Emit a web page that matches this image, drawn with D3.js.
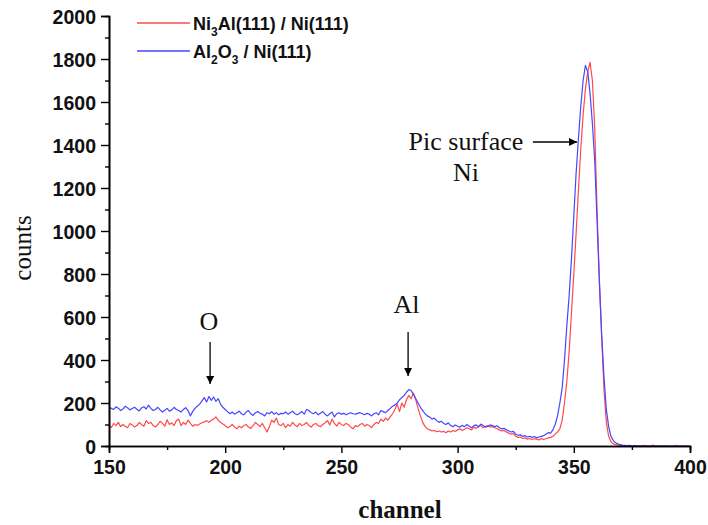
<!DOCTYPE html>
<html><head><meta charset="utf-8">
<script src="https://cdn.jsdelivr.net/npm/d3@7"></script>
<style>body{margin:0;background:#fff}svg{display:block}</style>
</head><body><svg id="c" width="708" height="525"></svg>
<script>
// ---------- data ----------
const channelStart = 150; // first channel; one value per channel
const ni3alCounts = [
100,85,105,95,110,90,100,92,85,105,
98,88,95,110,100,92,118,105,110,95,
88,100,115,105,92,122,100,108,95,118,
125,95,110,100,120,105,92,100,95,102,
108,112,118,110,120,125,135,120,110,102,
95,
85,90,100,88,80,92,85,95,100,88,
82,95,110,100,90,105,85,65,90,120,
110,130,100,95,105,85,100,92,110,98,
90,105,95,100,110,95,88,100,105,95,
90,100,108,118,98,125,105,92,110,100,
95,105,100,88,80,95,90,100,105,92,
100,95,85,100,110,105,125,115,130,120,
135,150,170,195,160,200,180,215,235,220,
245,215,175,140,110,90,80,75,70,72,
66,70,65,68,62,70,65,72,68,75,
80,72,78,85,80,75,88,82,90,95,
85,92,95,88,90,85,80,75,70,72,
65,60,55,58,45,40,42,35,38,32,
35,30,34,32,28,35,30,34,38,40,
45,55,65,80,120,200,300,440,620,800,
990,1190,1380,1540,1660,1740,1785,1700,1480,1100,
780,500,260,110,45,20,10,6,4,3,
2,1,0,1,0,2,0,1,0,3,
2,0,1,4,0,0,2,0,0,1,
0,0,0,3,0,0,1,0,0,0
];
const al2o3Counts = [
180,175,170,182,176,165,172,185,178,168,
174,180,171,163,177,183,172,190,175,165,
170,180,168,158,166,175,162,168,180,170,
165,158,170,178,165,140,160,175,185,195,
210,225,205,230,212,228,208,220,195,180,
170,
160,150,158,148,155,162,150,145,158,165,
150,142,155,160,152,148,140,155,150,160,
148,155,145,152,150,158,148,155,162,150,
145,152,160,148,170,165,155,150,158,145,
152,160,148,140,150,158,135,150,155,148,
152,145,150,155,150,148,152,155,150,145,
152,148,140,150,155,145,165,160,155,165,
175,185,190,200,215,225,235,250,262,258,
240,220,200,180,165,150,140,135,125,130,
118,110,115,105,100,108,95,90,98,92,
88,96,90,100,92,85,95,98,90,102,
95,88,92,98,95,90,94,85,80,82,
75,70,65,68,55,50,52,45,48,42,
45,40,44,38,42,45,48,55,62,60,
75,100,140,200,270,400,560,700,870,1070,
1270,1430,1580,1700,1770,1740,1640,1500,1330,1050,
760,520,320,170,90,45,25,15,10,6,
4,3,2,3,1,2,1,0,1,0,
0,1,0,0,1,0,0,0,1,0,
0,0,1,0,0,0,0,0,0,0
];
const xTicks = [150,200,250,300,350,400];
const xMinorTicks = [175,225,275,325,375];
const yTicks = [0,200,400,600,800,1000,1200,1400,1600,1800,2000];
const yMinorTicks = [100,300,500,700,900,1100,1300,1500,1700,1900];
const xTitle = "channel";
const yTitle = "counts";

// ---------- drawing ----------
const svg = d3.select("#c");
const x = d3.scaleLinear().domain([150,400]).range([109,690]);
const y = d3.scaleLinear().domain([0,2000]).range([446,16]);
const sans = "'Liberation Sans', Arial, sans-serif";
const serif = "'Liberation Serif', 'Times New Roman', serif";
const RED = "#ff4a4a", BLUE = "#4646ff";

function series(vals){ return vals.map((v,i)=>[channelStart+i, v]); }
const line = d3.line().x(d=>x(d[0])).y(d=>y(d[1]));

svg.append("path").datum(series(ni3alCounts)).attr("d", line)
  .attr("fill","none").attr("stroke",RED).attr("stroke-width",1.2).attr("stroke-linejoin","round");
svg.append("path").datum(series(al2o3Counts)).attr("d", line)
  .attr("fill","none").attr("stroke",BLUE).attr("stroke-width",1.2).attr("stroke-linejoin","round");

// axes
function styleAxis(g){
  g.selectAll(".domain").attr("stroke","#000").attr("stroke-width",1.6);
  g.selectAll(".tick line").attr("stroke","#000").attr("stroke-width",1.4);
  g.selectAll("text").attr("font-family",sans).attr("font-weight","bold")
    .attr("font-size",19.5).attr("fill","#111");
}
const yMinor = svg.append("g").attr("transform",`translate(${x(150)},0)`)
  .call(d3.axisLeft(y).tickValues(yMinorTicks).tickSize(4).tickFormat(""));
styleAxis(yMinor);
const yAxis = svg.append("g").attr("transform",`translate(${x(150)},0)`)
  .call(d3.axisLeft(y).tickValues(yTicks).tickSize(8).tickPadding(5).tickFormat(d3.format("d")));
styleAxis(yAxis);
yAxis.selectAll("text").attr("dy","0.36em");

const xMinor = svg.append("g").attr("transform",`translate(0,${y(0)})`)
  .call(d3.axisBottom(x).tickValues(xMinorTicks).tickSize(4).tickFormat(""));
styleAxis(xMinor);
const xAxis = svg.append("g").attr("transform",`translate(0,${y(0)})`)
  .call(d3.axisBottom(x).tickValues(xTicks).tickSize(7).tickPadding(7).tickFormat(d3.format("d")));
styleAxis(xAxis);

// axis titles
svg.append("text").attr("x",400).attr("y",518).attr("text-anchor","middle")
  .attr("font-family",serif).attr("font-weight","bold").attr("font-size",25).attr("fill","#111").text(xTitle);
svg.append("text").attr("transform","translate(31,248) rotate(-90)").attr("text-anchor","middle")
  .attr("font-family",serif).attr("font-size",25).attr("fill","#111").text(yTitle);

// legend
const leg = svg.append("g");
leg.append("line").attr("x1",137).attr("x2",190).attr("y1",23).attr("y2",23).attr("stroke",RED).attr("stroke-width",1.4);
leg.append("line").attr("x1",137).attr("x2",190).attr("y1",51).attr("y2",51).attr("stroke",BLUE).attr("stroke-width",1.4);
const lt1 = leg.append("text").attr("x",193).attr("y",30).attr("font-family",sans).attr("font-weight","bold")
  .attr("font-size",18).attr("fill","#111");
lt1.append("tspan").text("Ni");
lt1.append("tspan").attr("font-size",12).attr("dy",6).text("3");
lt1.append("tspan").attr("dy",-6).text("Al(111) / Ni(111)");
const lt2 = leg.append("text").attr("x",193).attr("y",58).attr("font-family",sans).attr("font-weight","bold")
  .attr("font-size",18).attr("fill","#111");
lt2.append("tspan").text("Al");
lt2.append("tspan").attr("font-size",12).attr("dy",6).text("2");
lt2.append("tspan").attr("dy",-6).text("O");
lt2.append("tspan").attr("font-size",12).attr("dy",6).text("3");
lt2.append("tspan").attr("dy",-6).text(" / Ni(111)");

// annotations
const defs = svg.append("defs");
defs.append("marker").attr("id","ah").attr("viewBox","0 0 10 10").attr("refX",10).attr("refY",5)
  .attr("markerWidth",10).attr("markerHeight",8).attr("markerUnits","userSpaceOnUse").attr("orient","auto")
  .append("path").attr("d","M0,0 L10,5 L0,10 Z").attr("fill","#000");
function arrow(x1,y1,x2,y2){
  svg.append("line").attr("x1",x1).attr("y1",y1).attr("x2",x2).attr("y2",y2)
    .attr("stroke","#000").attr("stroke-width",1.3).attr("marker-end","url(#ah)");
}
function label(t,xx,yy){
  svg.append("text").attr("x",xx).attr("y",yy).attr("text-anchor","middle")
    .attr("font-family",serif).attr("font-size",26).attr("fill","#111").text(t);
}
label("O", x(193), y(540));
arrow(x(193.5), y(484), x(193.5), y(288));
label("Al", x(278), y(619));
arrow(x(278.7), y(530), x(278.7), y(326));
label("Pic surface", x(303.6), y(1377));
label("Ni", x(303.6), y(1233));
arrow(x(332.4), y(1414), x(351.4), y(1414));
</script></body></html>
